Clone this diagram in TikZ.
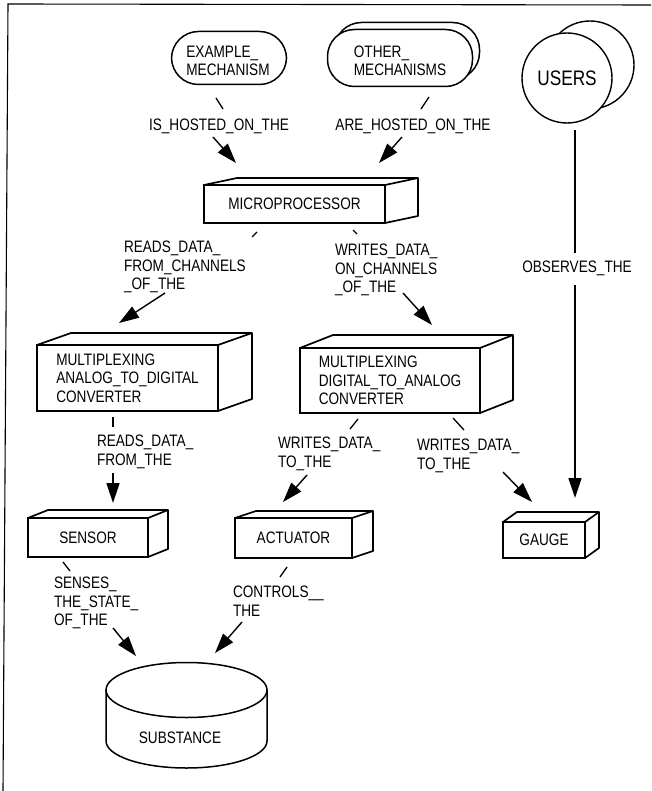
\documentclass[tikz,border=0pt]{standalone}
\usepackage{fontspec}
\setmainfont{Liberation Sans}[FakeStretch=0.82]
\usetikzlibrary{arrows.meta,calc}
\tikzset{
  boxline/.style={line width=1.7pt, line join=round},
  frontbox/.style={draw, line width=1.7pt, outer sep=0pt, inner sep=0pt, align=left, fill=white},
  stadium/.style={draw, line width=1.5pt, rounded corners=27pt, outer sep=0pt, inner sep=0pt, fill=white},
  lbl/.style={inner sep=0pt, outer sep=0pt, align=left},
  conn/.style={line width=1.4pt},
  arr/.style={line width=1.4pt, -{Triangle[length=20pt,width=13pt]}},
  tickline/.style={line width=1.3pt},
}
\newcommand\boxdepth[3]{%
  \draw[boxline] (#1.north west) -- ++(#2,#3) -- ($(#1.north east)+(#2,#3)$) -- ($(#1.south east)+(#2,#3)$) -- (#1.south east);
  \draw[boxline] (#1.north east) -- ++(#2,#3);
}
\begin{document}
\begin{tikzpicture}[x=1pt,y=-1pt, font=\fontsize{16.6pt}{18.5pt}\selectfont]
\useasboundingbox (0,0) rectangle (651,791);
% frame
\draw[line width=1.1pt] (651,5) -- (8,4) -- (3,791);

% top row
\node[stadium, minimum width=115pt, minimum height=53pt] (example) at (229,58) {};
\node[lbl] (exampletext) at (228,61) {EXAMPLE\_\\MECHANISM};
\node[stadium, minimum width=145pt, minimum height=57pt] (otherback) at (407,51) {};
\node[stadium, minimum width=145pt, minimum height=57pt] (other) at (400,58) {};
\node[lbl] (othertext) at (400,61) {OTHER\_\\MECHANISMS};
\draw[line width=1.4pt] (590,65) circle[radius=44];
\node[draw, circle, fill=white, line width=1.4pt, minimum size=90pt, inner sep=0pt,
      font=\fontsize{21pt}{24pt}\selectfont] (users) at (567,78) {USERS};

% boxes
\node[frontbox, minimum width=181pt, minimum height=38pt] (micro) at (294.5,204) {MICROPROCESSOR};
\boxdepth{micro}{33}{-7}
\node[frontbox, minimum width=181pt, minimum height=66pt] (adc) at (127.5,378) {MULTIPLEXING\\ANALOG\_TO\_DIGITAL\\CONVERTER};
\boxdepth{adc}{34}{-12}
\node[frontbox, minimum width=180pt, minimum height=65pt] (dac) at (390,380.5) {MULTIPLEXING\\DIGITAL\_TO\_ANALOG\\CONVERTER};
\boxdepth{dac}{33}{-13}
\node[frontbox, minimum width=120pt, minimum height=39pt] (sensor) at (88,537.5) {SENSOR};
\boxdepth{sensor}{20}{-8}
\node[frontbox, minimum width=117pt, minimum height=40pt] (actuator) at (293.5,538) {ACTUATOR};
\boxdepth{actuator}{21}{-7}
\node[frontbox, minimum width=82pt, minimum height=36pt] (gauge) at (544,540) {GAUGE};
\boxdepth{gauge}{14}{-10}

% substance cylinder
\draw[line width=1.5pt] (186.5,690) ellipse[x radius=80.5, y radius=27.5];
\draw[line width=1.5pt] (106,690) -- (106,741) arc[start angle=180, end angle=0, x radius=80.5, y radius=27] -- (267,690);
\node[lbl] (substance) at (180,738) {SUBSTANCE};

% labels
\node[lbl] (lishosted) at (219,126) {IS\_HOSTED\_ON\_THE};
\node[lbl] (larehosted) at (413,126) {ARE\_HOSTED\_ON\_THE};
\node[lbl, fill=white, inner sep=2pt] (lobserves) at (577,268) {OBSERVES\_THE};
\node[lbl, anchor=north west] (lreadsch) at (124,241) {READS\_DATA\_\\FROM\_CHANNELS\\\_OF\_THE};
\node[lbl, anchor=north west] (lwritesch) at (335,244) {WRITES\_DATA\_\\ON\_CHANNELS\\\_OF\_THE};
\node[lbl, anchor=north west] (lreadsfrom) at (97,435) {READS\_DATA\_\\FROM\_THE};
\node[lbl, anchor=north west] (lwritesact) at (278,437) {WRITES\_DATA\_\\TO\_THE};
\node[lbl, anchor=north west] (lwritesgau) at (417,439) {WRITES\_DATA\_\\TO\_THE};
\node[lbl, anchor=north west] (lsenses) at (54,577) {SENSES\_\\THE\_STATE\_\\OF\_THE};
\node[lbl, anchor=north west] (lcontrols) at (233,586) {CONTROLS\_\_\\THE};

% connector coordinates
\coordinate (t1a) at (216,98);  \coordinate (t1b) at (223,109);
\coordinate (t2a) at (429,97);  \coordinate (t2b) at (421,109);
\coordinate (t3a) at (257,232); \coordinate (t3b) at (252,237);
\coordinate (t4a) at (353,230); \coordinate (t4b) at (357,234);
\coordinate (t5a) at (113,417); \coordinate (t5b) at (113,427);
\coordinate (t6a) at (358,419); \coordinate (t6b) at (350,429);
\coordinate (t7a) at (453,418); \coordinate (t7b) at (464,430);
\coordinate (t8a) at (63,562);  \coordinate (t8b) at (70,571);
\coordinate (t9a) at (287,567); \coordinate (t9b) at (280,577);

\coordinate (a1s) at (213,137); \coordinate (a1e) at (236,163);
\coordinate (a2s) at (402,137); \coordinate (a2e) at (379,163);
\coordinate (a3s) at (165,293); \coordinate (a3e) at (119,323);
\coordinate (a4s) at (403,293); \coordinate (a4e) at (432,325);
\coordinate (a5s) at (113,473); \coordinate (a5e) at (113,503);
\coordinate (a6s) at (307,475); \coordinate (a6e) at (283,502);
\coordinate (a7s) at (503,472); \coordinate (a7e) at (532,502);
\coordinate (a8s) at (575,130); \coordinate (a8m) at (575,253);
\coordinate (a8n) at (575,285); \coordinate (a8e) at (575,498);
\coordinate (a9s) at (113,628); \coordinate (a9e) at (136,656);
\coordinate (a10s) at (242,622); \coordinate (a10e) at (215,653);

\foreach \i in {1,...,9} {\draw[tickline] (t\i a) -- (t\i b);}
\foreach \i in {1,2,3,4,5,6,7,9,10} {\draw[arr] (a\i s) -- (a\i e);}
\draw[conn] (a8s) -- (a8m);
\draw[arr] (a8n) -- (a8e);
\end{tikzpicture}
\end{document}
